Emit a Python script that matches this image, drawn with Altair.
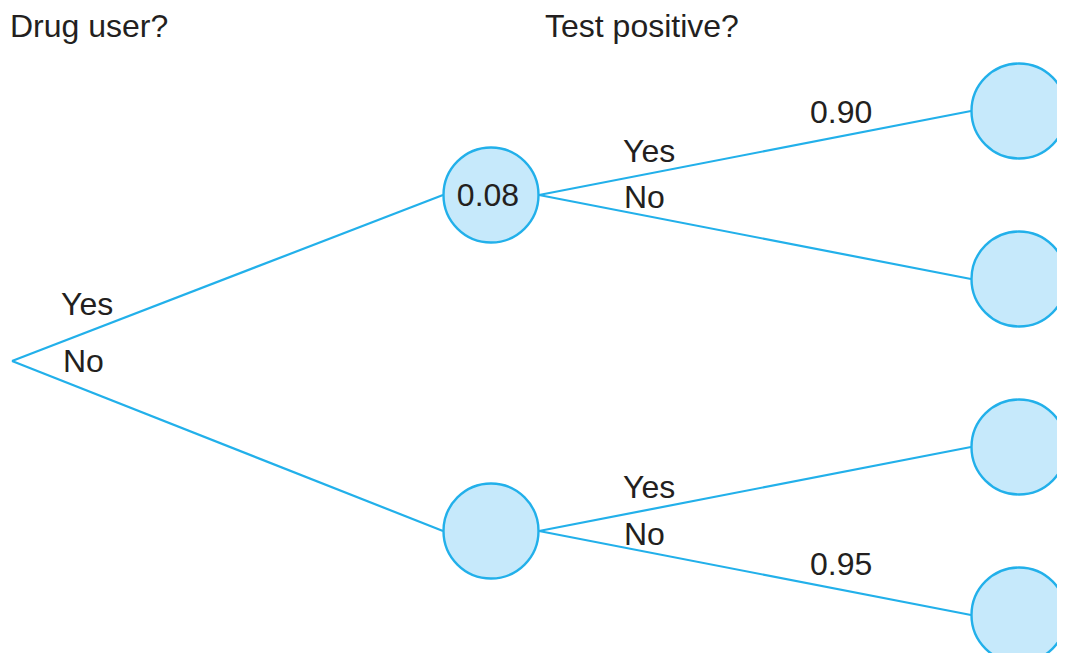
import altair as alt
import pandas as pd

# Node layout (page pixel coordinates)
node_names = ["root", "user", "nonuser", "u_pos", "u_neg", "n_pos", "n_neg"]
node_x = [12, 491, 491, 1019, 1019, 1019, 1019]
node_y = [361, 195, 531, 111, 279, 447, 615]
node_is_circle = [False, True, True, True, True, True, True]
radius = 48

edge_from = ["root", "root", "user", "user", "nonuser", "nonuser"]
edge_to = ["user", "nonuser", "u_pos", "u_neg", "n_pos", "n_neg"]

label_text = ["Drug user?", "Test positive?", "Yes", "No", "Yes", "No", "0.90",
              "Yes", "No", "0.95"]
label_x = [10, 545, 61, 63, 623, 624, 810, 623, 624, 810]
label_y = [37, 37, 315, 372, 162, 208, 123, 498, 545, 575]

center_text = ["0.08"]
center_x = [488]
center_y = [206]

LINE = "#22b0ea"
FILL = "#c6e9fb"
TEXT = "#231f20"
FONT = "Liberation Sans"
FS = 32

W, H = 1049, 645
xs = alt.Scale(domain=[8, 8 + W], nice=False, zero=False)
ys = alt.Scale(domain=[8, 8 + H], nice=False, zero=False, reverse=True)

pos = {n: (x, y) for n, x, y in zip(node_names, node_x, node_y)}
rows = []
for a, b in zip(edge_from, edge_to):
    ax, ay = pos[a]
    bx, by = pos[b]
    x0 = ax + (radius if a != "root" else 0)
    rows.append({"x": x0, "y": ay, "x2": bx - radius, "y2": by})
edges = pd.DataFrame(rows)

nodes = pd.DataFrame({"x": node_x, "y": node_y, "c": node_is_circle})
nodes = nodes[nodes["c"]]

labels = pd.DataFrame({"t": label_text, "x": label_x, "y": label_y})
centers = pd.DataFrame({"t": center_text, "x": center_x, "y": center_y})

X = lambda f="x": alt.X(f, type="quantitative", scale=xs, axis=None)
Y = lambda f="y": alt.Y(f, type="quantitative", scale=ys, axis=None)

lines = alt.Chart(edges).mark_rule(color=LINE, strokeWidth=2.2).encode(
    x=X(), y=Y(), x2="x2", y2="y2")

circles = alt.Chart(nodes).mark_point(
    shape="circle", filled=False, fill=FILL, fillOpacity=1, stroke=LINE,
    strokeWidth=2.4, opacity=1, size=95 * 95).encode(x=X(), y=Y())

texts = alt.Chart(labels).mark_text(
    align="left", baseline="alphabetic", font=FONT, fontSize=FS, color=TEXT
).encode(x=X(), y=Y(), text="t:N")

ctexts = alt.Chart(centers).mark_text(
    align="center", baseline="alphabetic", font=FONT, fontSize=FS, color=TEXT
).encode(x=X(), y=Y(), text="t:N")

chart = alt.layer(lines, circles, texts, ctexts).properties(
    width=W, height=H, padding=0,
    autosize=alt.AutoSizeParams(type="none"),
).configure_view(stroke=None)

chart.save("out.html", embed_options={"renderer": "svg", "actions": False})
